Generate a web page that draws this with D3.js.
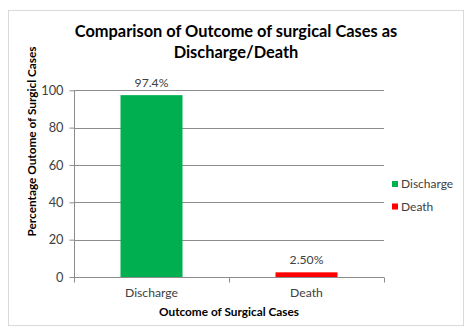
<!DOCTYPE html>
<html><head><meta charset="utf-8">
<script src="https://cdn.jsdelivr.net/npm/d3@7"></script>
<style>body{margin:0;background:#fff;} svg{display:block;font-family:Lato,"Open Sans",sans-serif;}</style>
</head><body>
<svg id="c" width="472" height="333"></svg>
<script>
const categories = ["Discharge", "Death"];
const values = [97.4, 2.5];
const valueLabels = ["97.4%", "2.50%"];
const colors = ["#00B050", "#FF0000"];
const yTicks = [0, 20, 40, 60, 80, 100];
const title = ["Comparison of Outcome of surgical Cases as", "Discharge/Death"];
const xTitle = "Outcome of Surgical Cases";
const yTitle = "Percentage Outome of Surgicl Cases";

const svg = d3.select("#c");
svg.append("rect").attr("x", 8.5).attr("y", 10.5).attr("width", 455).attr("height", 315)
  .attr("fill", "#fff").attr("stroke", "#d9d9d9");

const L = 74, R = 384, T = 90.3, B = 277;
const x = d3.scaleBand().domain(categories).range([L, R]).paddingInner(0.6).paddingOuter(0.3);
const xOuter = d3.scaleBand().domain(categories).range([L, R]);
const y = d3.scaleLinear().domain([0, 100]).range([B, T]);

// gridlines
svg.append("g").selectAll("line").data(yTicks.filter(d => d > 0)).join("line")
  .attr("x1", L).attr("x2", R).attr("y1", d => Math.round(y(d)) + 0.5).attr("y2", d => Math.round(y(d)) + 0.5)
  .attr("stroke", "#8c8c8c").attr("stroke-width", 1);

// y axis
const ya = svg.append("g").attr("transform", `translate(${L + 0.5},0)`)
  .call(d3.axisLeft(y).tickValues(yTicks).tickSize(5).tickPadding(6));
ya.select(".domain").attr("stroke", "#8c8c8c").attr("d", `M0,${T}V${B}`);
ya.selectAll(".tick line").attr("stroke", "#8c8c8c");
ya.selectAll(".tick text").attr("fill", "#404040").style("font-size", "12.8px").style("font-family", "Lato,sans-serif");

// x axis
const xa = svg.append("g").attr("transform", `translate(0,${Math.round(B) + 0.5})`);
xa.append("line").attr("x1", L).attr("x2", R).attr("stroke", "#8c8c8c");
const bounds = [L, L + xOuter.bandwidth(), R];
xa.selectAll("line.t").data(bounds).join("line").attr("class", "t")
  .attr("x1", d => Math.round(d) + 0.5).attr("x2", d => Math.round(d) + 0.5).attr("y1", 0).attr("y2", 5)
  .attr("stroke", "#8c8c8c");
xa.selectAll("text").data(categories).join("text")
  .attr("x", d => x(d) + x.bandwidth() / 2).attr("y", 19.5).attr("text-anchor", "middle")
  .attr("fill", "#404040").style("font-size", "12.2px").text(d => d);

// bars
svg.append("g").selectAll("rect").data(categories).join("rect")
  .attr("x", d => x(d)).attr("width", x.bandwidth())
  .attr("y", (d, i) => y(values[i])).attr("height", (d, i) => y(0) - y(values[i]))
  .attr("fill", (d, i) => colors[i]);

// data labels
svg.append("g").selectAll("text").data(categories).join("text")
  .attr("x", d => x(d) + x.bandwidth() / 2).attr("y", (d, i) => y(values[i]) - 8.5)
  .attr("text-anchor", "middle").attr("fill", "#404040").style("font-size", "12.2px")
  .text((d, i) => valueLabels[i]);

// title
svg.append("g").selectAll("text").data(title).join("text")
  .attr("x", 236).attr("y", (d, i) => 37 + i * 21).attr("text-anchor", "middle")
  .style("font-size", "16.4px").style("font-weight", "bold").attr("fill", "#000").text(d => d);

// axis titles
svg.append("text").attr("x", 229).attr("y", 316).attr("text-anchor", "middle")
  .style("font-size", "11.8px").style("font-weight", "bold").text(xTitle);
svg.append("text").attr("transform", "translate(36,141.5) rotate(-90)").attr("text-anchor", "middle")
  .style("font-size", "11.8px").style("font-weight", "bold").text(yTitle);

// legend
const lg = svg.append("g").selectAll("g").data(categories).join("g")
  .attr("transform", (d, i) => `translate(392,${181 + i * 22.5})`);
lg.append("rect").attr("width", 6).attr("height", 6).attr("fill", (d, i) => colors[i]);
lg.append("text").attr("x", 9).attr("y", 7).attr("fill", "#404040").style("font-size", "12px").text(d => d);
</script>
</body></html>
